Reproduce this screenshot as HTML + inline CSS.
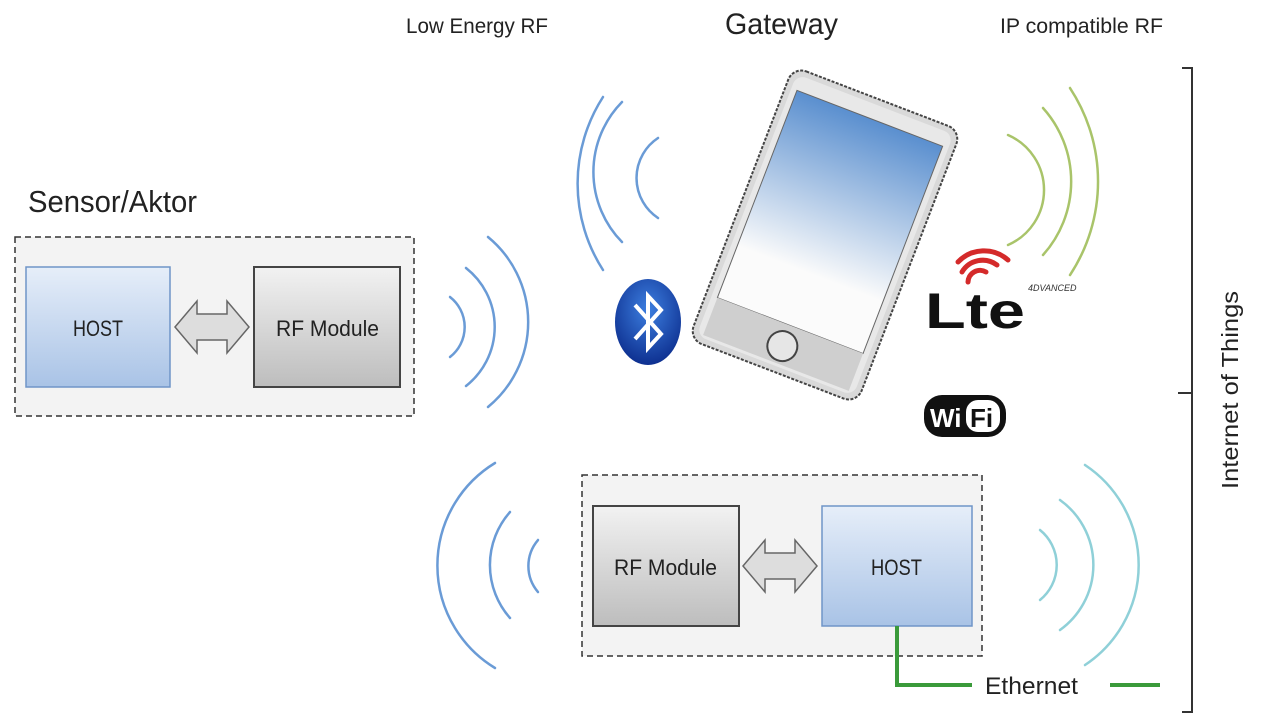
<!DOCTYPE html>
<html><head><meta charset="utf-8"><style>
html,body{margin:0;padding:0;background:#fff;width:1280px;height:719px;overflow:hidden}
svg{display:block}
text{font-family:"Liberation Sans Narrow","Liberation Sans",sans-serif;fill:#222}
</style></head><body>
<svg width="1280" height="719" viewBox="0 0 1280 719" xmlns="http://www.w3.org/2000/svg">
<defs>
<linearGradient id="hb" x1="0" y1="0" x2="0" y2="1"><stop offset="0" stop-color="#e6eef9"/><stop offset="1" stop-color="#a9c3e6"/></linearGradient>
<linearGradient id="gb" x1="0" y1="0" x2="0" y2="1"><stop offset="0" stop-color="#f2f2f2"/><stop offset="1" stop-color="#bdbdbd"/></linearGradient>
<linearGradient id="scr" x1="0" y1="0" x2="0" y2="1"><stop offset="0" stop-color="#5a8fcf"/><stop offset="0.75" stop-color="#fbfbfb"/></linearGradient>
<radialGradient id="bt" cx="0.5" cy="0.35" r="0.7"><stop offset="0" stop-color="#3d7fe0"/><stop offset="1" stop-color="#0a2a8a"/></radialGradient>
</defs>

<text x="406" y="33" font-size="21" textLength="142" lengthAdjust="spacingAndGlyphs">Low Energy RF</text>
<text x="725" y="34" font-size="30" textLength="113" lengthAdjust="spacingAndGlyphs">Gateway</text>
<text x="1000" y="33" font-size="21" textLength="163" lengthAdjust="spacingAndGlyphs">IP compatible RF</text>
<text x="28" y="212" font-size="31" textLength="169" lengthAdjust="spacingAndGlyphs">Sensor/Aktor</text>

<!-- box 1 -->
<rect x="15" y="237" width="399" height="179" fill="#f3f3f3" stroke="#333" stroke-width="1.5" stroke-dasharray="6,4"/>
<rect x="26" y="267" width="144" height="120" fill="url(#hb)" stroke="#6f95c8" stroke-width="1.5"/>
<text x="73" y="336" font-size="22" textLength="50" lengthAdjust="spacingAndGlyphs">HOST</text>
<rect x="254" y="267" width="146" height="120" fill="url(#gb)" stroke="#444" stroke-width="2"/>
<text x="276" y="336" font-size="22" textLength="103" lengthAdjust="spacingAndGlyphs">RF Module</text>
<polygon points="175,327 197,301 197,314 227,314 227,301 249,327 227,353 227,340 197,340 197,353" fill="#ddd" stroke="#666" stroke-width="1.5"/>

<!-- box 2 -->
<rect x="582" y="475" width="400" height="181" fill="#f3f3f3" stroke="#333" stroke-width="1.5" stroke-dasharray="6,4"/>
<rect x="593" y="506" width="146" height="120" fill="url(#gb)" stroke="#444" stroke-width="2"/>
<text x="614" y="575" font-size="22" textLength="103" lengthAdjust="spacingAndGlyphs">RF Module</text>
<rect x="822" y="506" width="150" height="120" fill="url(#hb)" stroke="#6f95c8" stroke-width="1.5"/>
<text x="871" y="575" font-size="22" textLength="51" lengthAdjust="spacingAndGlyphs">HOST</text>
<polygon points="743,566 765,540 765,553 795,553 795,540 817,566 795,592 795,579 765,579 765,592" fill="#ddd" stroke="#666" stroke-width="1.5"/>

<!-- ethernet -->
<polyline points="897,626 897,685 972,685" fill="none" stroke="#3a9a3a" stroke-width="4"/>
<line x1="1110" y1="685" x2="1160" y2="685" stroke="#3a9a3a" stroke-width="4"/>
<text x="985" y="694" font-size="24" textLength="93" lengthAdjust="spacingAndGlyphs">Ethernet</text>

<!-- bracket -->
<polyline points="1182,68 1192,68 1192,712 1182,712" fill="none" stroke="#333" stroke-width="2"/>
<line x1="1178" y1="393" x2="1192" y2="393" stroke="#333" stroke-width="2"/>
<text transform="translate(1238,390) rotate(-90)" font-size="23" text-anchor="middle" textLength="198" lengthAdjust="spacingAndGlyphs">Internet of Things</text>

<!-- waves -->
<g fill="none" stroke-width="2.5" stroke-linecap="round">
<g stroke="#6a9bd6">
<path d="M450,297 A38,38 0 0 1 450,357"/>
<path d="M466,268 A75,75 0 0 1 466,386"/>
<path d="M488,237 A110,110 0 0 1 488,407"/>
<path d="M658,138 A48,48 0 0 0 658,218"/>
<path d="M622,102 A100,100 0 0 0 622,242"/>
<path d="M603,97 A160,160 0 0 0 603,270"/>
<path d="M538,540 A40,40 0 0 0 538,592"/>
<path d="M510,512 A80,80 0 0 0 510,618"/>
<path d="M495,463 A120,120 0 0 0 495,668"/>
</g>
<g stroke="#a9c46a">
<path d="M1008,135 A60,60 0 0 1 1008,245"/>
<path d="M1043,108 A110,110 0 0 1 1043,255"/>
<path d="M1070,88 A170,170 0 0 1 1070,275"/>
</g>
<g stroke="#8fd0d8">
<path d="M1040,530 A45,45 0 0 1 1040,600"/>
<path d="M1060,500 A80,80 0 0 1 1060,630"/>
<path d="M1085,465 A120,120 0 0 1 1085,665"/>
</g>
</g>

<!-- phone -->
<g transform="translate(825,235) rotate(21)">
<rect x="-90" y="-146" width="180" height="292" rx="14" fill="#d9d9d9" stroke="#444" stroke-width="2" stroke-dasharray="3,1.5"/>
<rect x="-84" y="-140" width="168" height="280" rx="10" fill="#e8e8e8"/>
<rect x="-78" y="-125" width="156" height="222" fill="url(#scr)" stroke="#666" stroke-width="1"/>
<rect x="-78" y="97" width="156" height="40" fill="#cfcfcf"/>
<circle cx="0" cy="119" r="15" fill="#e6e6e6" stroke="#444" stroke-width="2"/>
</g>

<!-- bluetooth -->
<ellipse cx="648" cy="322" rx="33" ry="43" fill="url(#bt)"/>
<polyline points="635,305 661,334 648,348 648,296 661,310 635,339" fill="none" stroke="#fff" stroke-width="4" stroke-linejoin="miter"/>

<!-- LTE -->
<g fill="none" stroke="#d42a2a" stroke-width="5" stroke-linecap="round">
<path d="M968,282 A12,12 0 0 1 986,272"/>
<path d="M962,272 A24,24 0 0 1 997,265"/>
<path d="M958,262 A36,36 0 0 1 1008,260"/>
</g>
<text x="925" y="328" font-size="50" font-weight="bold" font-family="Liberation Sans,sans-serif" style="fill:#111" textLength="100" lengthAdjust="spacingAndGlyphs">Lte</text>
<text x="1028" y="291" font-size="9" font-style="italic" font-family="Liberation Sans,sans-serif" style="fill:#333">4DVANCED</text>

<!-- WiFi -->
<rect x="924" y="395" width="82" height="42" rx="18" fill="#111"/>
<rect x="966" y="400" width="34" height="32" rx="12" fill="#fff"/>
<text x="930" y="427" font-size="26" font-weight="bold" font-family="Liberation Sans,sans-serif" style="fill:#fff">Wi</text>
<text x="970" y="427" font-size="26" font-weight="bold" font-family="Liberation Sans,sans-serif" style="fill:#111">Fi</text>
</svg>
</body></html>
